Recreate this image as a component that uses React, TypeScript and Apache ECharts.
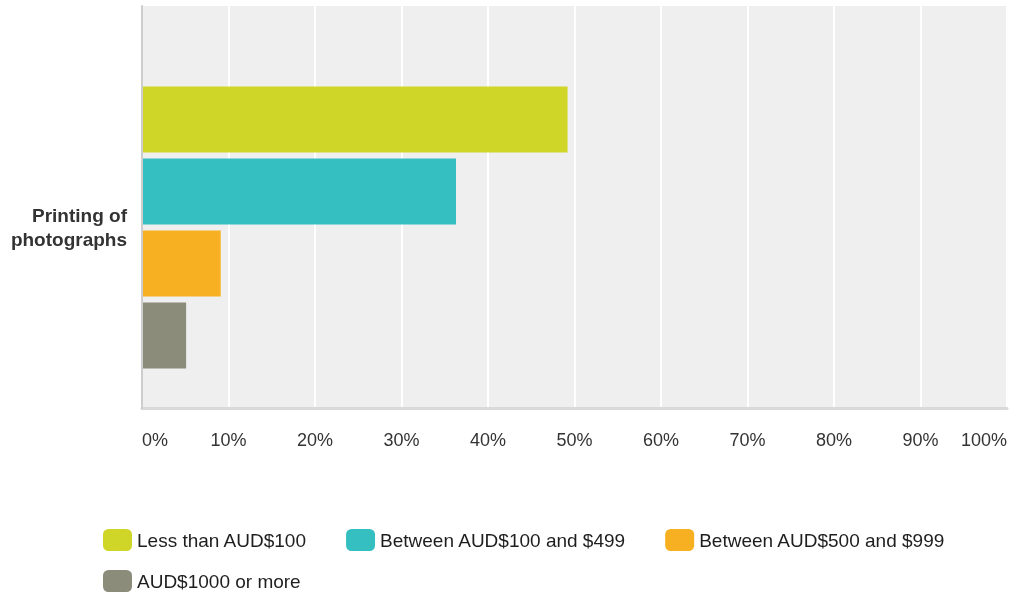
import React, { useEffect, useRef } from "react";
import * as echarts from "echarts";

const categories = ["Printing of\nphotographs"];
const seriesNames = [
  "Less than AUD$100",
  "Between AUD$100 and $499",
  "Between AUD$500 and $999",
  "AUD$1000 or more",
];
const seriesValues = [49.2, 36.3, 9.1, 5.1];
const seriesColors = ["#d0d628", "#35bfc0", "#f7b021", "#8b8c7a"];
const xTicks = [0, 10, 20, 30, 40, 50, 60, 70, 80, 90, 100];

const FONT = "'Liberation Sans', Arial, Helvetica, sans-serif";

export default function App() {
  const ref = useRef<HTMLDivElement>(null);
  useEffect(() => {
    if (!ref.current) return;
    const chart = echarts.init(ref.current, null, { renderer: "svg" });
    const legendCommon = {
      left: 103,
      padding: 0,
      itemWidth: 29,
      itemHeight: 22,
      itemGap: 39,
      icon: "roundRect",
      textStyle: { fontFamily: FONT, fontSize: 19, color: "#1e1e1e" },
    };
    const option: any = {
      animation: false,
      grid: [
        {
          left: 142,
          right: 4,
          top: 6,
          bottom: 185,
          show: true,
          backgroundColor: "#efefef",
          borderWidth: 0,
        },
        { left: 142, right: 4, top: 47, bottom: 185 },
      ],
      xAxis: [
        {
          gridIndex: 0,
          type: "value",
          min: xTicks[0],
          max: xTicks[xTicks.length - 1],
          interval: 10,
          axisLine: { show: true, lineStyle: { color: "#d9d9d9", width: 3 } },
          axisTick: { show: false },
          splitLine: { show: true, lineStyle: { color: "#ffffff", width: 2 } },
          axisLabel: {
            formatter: "{value}%",
            fontFamily: FONT,
            fontSize: 18,
            color: "#333333",
            margin: 23,
            alignMinLabel: "left",
            alignMaxLabel: "right",
          },
        },
        {
          gridIndex: 1,
          type: "value",
          min: 0,
          max: 100,
          show: false,
        },
      ],
      yAxis: [
        {
          gridIndex: 0,
          type: "value",
          min: 0,
          max: 1,
          axisLine: { show: true, lineStyle: { color: "#cdcdcd", width: 2 } },
          axisTick: { show: false },
          axisLabel: { show: false },
          splitLine: { show: false },
          z: 5,
        },
        {
          gridIndex: 1,
          type: "category",
          data: categories,
          inverse: true,
          axisLine: { show: false },
          axisTick: { show: false },
          splitLine: { show: false },
          axisLabel: {
            fontFamily: FONT,
            fontSize: 19,
            fontWeight: "bold",
            lineHeight: 24,
            color: "#333333",
            margin: 15,
            align: "right",
          },
        },
      ],
      legend: [
        { ...legendCommon, data: seriesNames.slice(0, 3), top: 529 },
        { ...legendCommon, data: seriesNames.slice(3), top: 570 },
      ],
      series: seriesNames.map((name, i) => ({
        name,
        type: "bar",
        xAxisIndex: 1,
        yAxisIndex: 1,
        data: [seriesValues[i]],
        barWidth: 66,
        barGap: "9.1%",
        itemStyle: { color: seriesColors[i] },
      })),
    };
    chart.setOption(option);
    return () => chart.dispose();
  }, []);
  return (
    <div
      ref={ref}
      style={{ position: "fixed", left: 0, top: 0, width: 1011, height: 593 }}
    />
  );
}
